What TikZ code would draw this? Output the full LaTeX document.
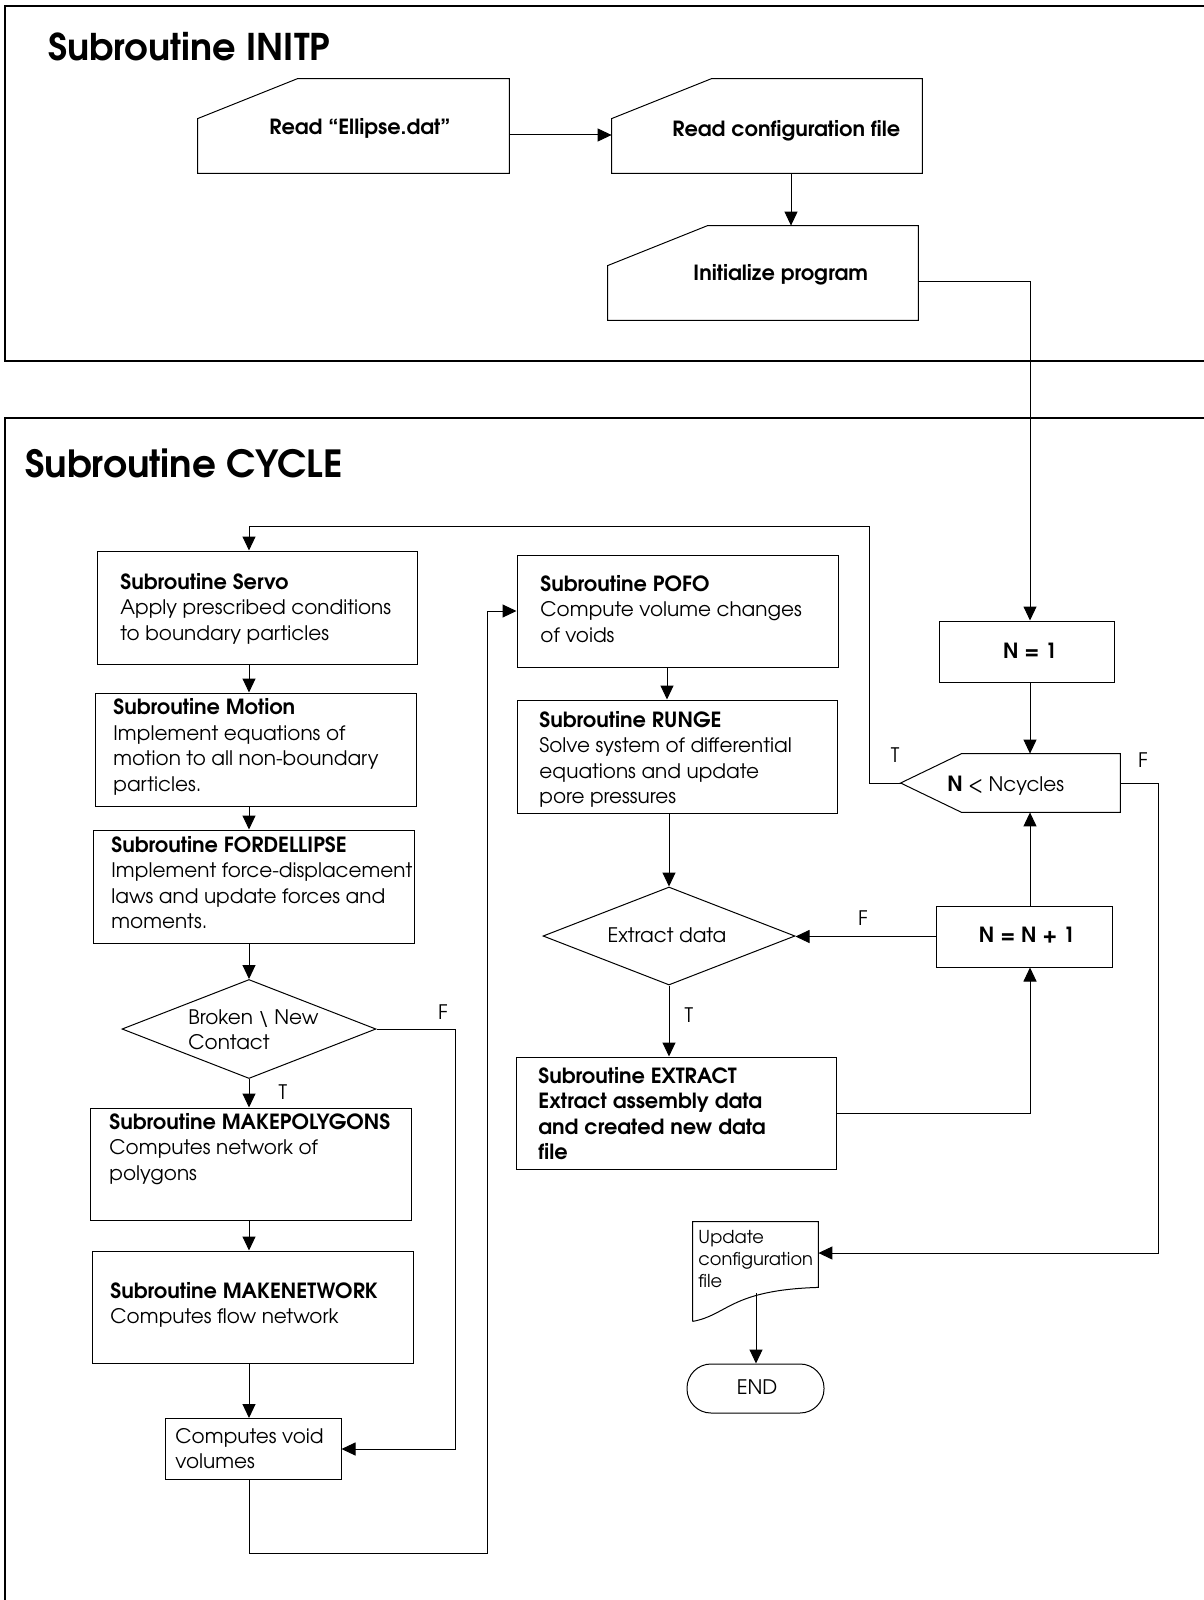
\documentclass[tikz,border=0pt]{standalone}
\usepackage{fontspec}
\setmainfont{texgyreadventor}[Extension=.otf, UprightFont=*-regular, BoldFont=*-bold, ItalicFont=*-italic, BoldItalicFont=*-bolditalic, BoldFeatures={Scale=1.045}]
\usetikzlibrary{arrows.meta,calc,shapes.geometric}
\newcommand{\mylines}[1]{\begin{tabular}[t]{@{}l@{}}#1\end{tabular}}
\tikzset{
  sz/.style 2 args={minimum width=#1*0.5pt, minimum height=#2*0.5pt},
  box/.style={draw, rectangle, inner sep=0pt, line width=0.5pt},
  ghost/.style={rectangle, inner sep=0pt},
  outl/.style={line width=0.5pt},
  frame/.style={line width=0.6pt},
  arr/.style={line width=0.5pt, -{Triangle[length=7pt,width=6.5pt]}},
  ln/.style={line width=0.5pt},
  txt/.style={anchor=base west, inner sep=0pt, font=\fontsize{10}{12.8}\selectfont},
  ctxt/.style={anchor=base, inner sep=0pt, font=\fontsize{10}{12.8}\selectfont},
  lbl/.style={anchor=base, inner sep=0pt, font=\fontsize{10}{12}\selectfont},
}
\begin{document}
\begin{tikzpicture}[x=0.5pt,y=-0.5pt]
\fill[white] (0,0) rectangle (1204,1600);
\useasboundingbox (0,0) rectangle (1204,1600);

% frames
\draw[frame] (1204,6) -- (5,6) -- (5,361) -- (1204,361);
\draw[frame] (1204,418) -- (5,418) -- (5,1600);

% titles
\node[anchor=base west, inner sep=0pt, font=\fontsize{17.6}{21}\selectfont\bfseries] (titleI) at (48,61) {Subroutine INITP};
\node[anchor=base west, inner sep=0pt, font=\fontsize{17.9}{21}\selectfont\bfseries] (titleC) at (25,477) {Subroutine CYCLE};

% helper coordinates
\coordinate (colL) at (249,0);
\coordinate (colM) at (667,0);
\coordinate (colR) at (791,0);
\coordinate (colN) at (1030,0);
\coordinate (loopTR) at (869,526);
\coordinate (fR) at (1158,1253);
\coordinate (brF) at (455,1449);
\coordinate (lpB) at (487,1553);
\coordinate (updB) at (756,1293);

% INITP shapes (manual input)
\node[ghost, sz={311}{94}] (readE) at (353.5,126) {};
\node[ghost, sz={310}{94}] (readC) at (767,126) {};
\node[ghost, sz={310}{94}] (init) at (763,273) {};
\foreach \n in {readE,readC,init}{
  \draw[outl] (\n.south west) -- ($(\n.north west)+(0,40)$) -- ($(\n.north west)+(100,0)$) -- (\n.north east) -- (\n.south east) -- cycle;
}
\node[txt, font=\fontsize{10}{12.8}\selectfont\bfseries] (readEt) at (269,134) {Read “Ellipse.dat”};
\node[txt, font=\fontsize{10}{12.8}\selectfont\bfseries] (readCt) at (672,136) {Read configuration file};
\node[txt, font=\fontsize{10}{12.8}\selectfont\bfseries] (initt) at (693,280) {Initialize program};

% CYCLE boxes
\node[box, sz={320}{113}] (servo) at (257,607.5) {};
\node[box, sz={321}{113}] (motion) at (255.5,749.5) {};
\node[box, sz={321}{113}] (ford) at (253.5,886.5) {};
\node[box, sz={321}{112}] (mkpoly) at (250.5,1164) {};
\node[box, sz={321}{112}] (mknet) at (252.5,1307) {};
\node[box, sz={176}{61}] (cvoid) at (253,1449) {};
\node[box, sz={321}{112}] (pofo) at (677.5,611) {};
\node[box, sz={320}{113}] (runge) at (677,756.5) {};
\node[box, sz={320}{112}] (ext) at (676,1113) {};
\node[box, sz={175}{61}] (n1) at (1026.5,651.5) {};
\node[box, sz={176}{61}] (nn) at (1024,936.5) {};
\node[draw, diamond, inner sep=0pt, line width=0.5pt, sz={254}{99}] (bro) at (249,1029) {};
\node[draw, diamond, inner sep=0pt, line width=0.5pt, sz={252}{98}] (exd) at (669,936) {};
\node[draw, rectangle, rounded corners=12pt, inner sep=0pt, line width=0.5pt, sz={137}{49}] (endN) at (755.5,1388.5) {};

% pentagon decision
\node[ghost, sz={219}{58}] (cond) at (1010.5,783) {};
\draw[outl] (cond.west) -- ($(cond.north west)+(61,0)$) -- (cond.north east) -- (cond.south east) -- ($(cond.south west)+(61,0)$) -- cycle;

% document shape
\node[ghost, sz={125}{99}] (upd) at (755.5,1271.5) {};
\draw[outl] (upd.south west) -- (upd.north west) -- (upd.north east) -- ($(upd.south east)+(0,-34)$) .. controls (730,1290) and (728,1315) .. (upd.south west);

% texts
\node[txt] (servot) at (120,589) {\mylines{\textbf{Subroutine Servo}\\Apply prescribed conditions\\to boundary particles}};
\node[txt] (motiont) at (113,714.5) {\mylines{\textbf{Subroutine Motion}\\Implement equations of\\motion to all non-boundary\\particles.}};
\node[txt] (fordt) at (111,852) {\mylines{\textbf{Subroutine FORDELLIPSE}\\Implement force-displacement\\laws and update forces and\\moments.}};
\node[txt] (brot) at (188,1024) {\mylines{Broken \textbackslash{} New\\Contact}};
\node[txt] (mkpolyt) at (109,1129) {\mylines{\textbf{Subroutine MAKEPOLYGONS}\\Computes network of\\polygons}};
\node[txt] (mknett) at (110,1298) {\mylines{\textbf{Subroutine MAKENETWORK}\\Computes flow network}};
\node[txt] (cvoidt) at (175,1443) {\mylines{Computes void\\volumes}};
\node[txt] (pofot) at (540,591) {\mylines{\textbf{Subroutine POFO}\\Compute volume changes\\of voids}};
\node[txt] (runget) at (539,727) {\mylines{\textbf{Subroutine RUNGE}\\Solve system of differential\\equations and update\\pore pressures}};
\node[txt, font=\fontsize{10}{12.8}\selectfont\bfseries] (extt) at (538,1083) {\mylines{Subroutine EXTRACT\\Extract assembly data\\and created new data\\file}};
\node[ctxt] (exdt) at (667,942) {Extract data};
\node[ctxt, font=\fontsize{10}{12.8}\selectfont\bfseries] (n1t) at (1030,658) {N = 1};
\node[ctxt, font=\fontsize{10}{12.8}\selectfont\bfseries] (nnt) at (1027,942) {N = N + 1};
\node[txt] (condt) at (947,791) {\textbf{N} < Ncycles};
\node[txt, font=\fontsize{8.9}{11.2}\selectfont] (updt) at (698,1243) {\mylines{Update\\configuration\\file}};
\node[ctxt, font=\fontsize{10}{12}\selectfont] (endt) at (757,1394) {END};

% labels
\node[lbl] (tc) at (895,762) {T};
\node[lbl] (fc) at (1143,767) {F};
\node[lbl] (fe) at (863,925) {F};
\node[lbl] (te) at (689,1022) {T};
\node[lbl] (fb) at (443,1019) {F};
\node[lbl] (tb) at (283,1099) {T};

% connectors INITP
\draw[arr] ($(readE.east)+(0,9)$) -- ($(readC.west)+(0,9)$);
\draw[arr] (readC.south -| colR) -- (init.north -| colR);
\draw[arr] ($(init.east)+(0,8)$) -| (n1.north -| colN);

% connectors CYCLE
\draw[arr] (n1.south -| colN) -- (cond.north -| colN);
\draw[arr] (cond.west) -| (loopTR) -| (servo.north -| colL);
\draw[arr] (cond.east) -| (fR) -- (fR -| upd.east);
\draw[arr] (nn.north -| colN) -- (cond.south -| colN);
\draw[arr] (nn.west) -- (nn.west -| exd.east);
\draw[arr] (ext.east) -| (nn.south -| colN);
\draw[arr] (runge.south -| exd.north) -- (exd.north);
\draw[arr] (exd.south) -- (exd.south |- ext.north);
\draw[arr] (pofo.south -| colM) -- (runge.north -| colM);
\draw[arr] (servo.south -| colL) -- (motion.north -| colL);
\draw[arr] (motion.south -| colL) -- (ford.north -| colL);
\draw[arr] (ford.south -| colL) -- (bro.north);
\draw[arr] (bro.south) -- (mkpoly.north -| colL);
\draw[arr] (bro.east) -| (brF) -- (cvoid.east);
\draw[arr] (mkpoly.south -| colL) -- (mknet.north -| colL);
\draw[arr] (mknet.south -| colL) -- (cvoid.north -| colL);
\draw[arr] (cvoid.south -| colL) |- (lpB) |- (pofo.west);
\draw[arr] (updB) -- (updB |- endN.north);
\end{tikzpicture}
\end{document}
